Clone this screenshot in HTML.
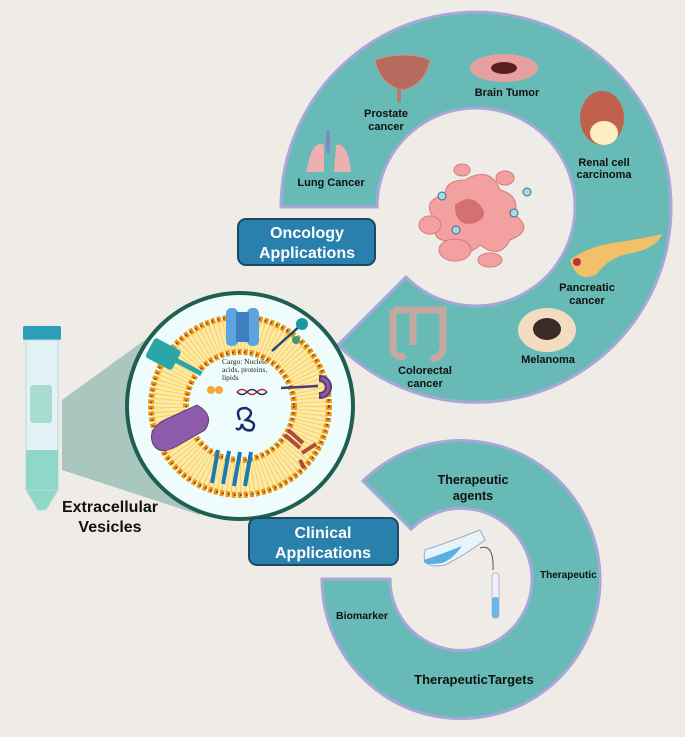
<!DOCTYPE html>
<html><head><meta charset="utf-8"><style>
body{margin:0;background:#efebe6;}
svg{display:block;font-family:"Liberation Sans",sans-serif;}
.lb{font-weight:bold;font-size:11px;fill:#111;text-anchor:middle}
</style></head><body>
<svg width="685" height="737" viewBox="0 0 685 737">
<rect width="685" height="737" fill="#efebe6"/>
<!-- shadow wedge -->
<polygon points="62,400 175,318 200,515 62,470" fill="#a9c7bf"/>
<!-- top ring: center 476,207 R195 r99; from 180deg clockwise to 225deg (lower-left) -->
<path d="M281,207 A195,195 0 1 1 338,345 L406,277 A99,99 0 1 0 377,207 Z" fill="#67bab6" stroke="#a5a8d8" stroke-width="3"/>
<!-- bottom ring: center 461,579 R139 r71 -->
<path d="M322,579 A139,139 0 1 0 363,481 L411,529 A71,71 0 1 1 390,579 Z" fill="#67bab6" stroke="#a5a8d8" stroke-width="3"/>
<!-- vesicle -->
<circle cx="240" cy="406" r="113" fill="#effcfc" stroke="#1f5f50" stroke-width="4"/>
<circle cx="240" cy="406" r="72" fill="none" stroke="#fde9a8" stroke-width="34"/>
<circle cx="240" cy="406" r="72" fill="none" stroke="#f4c542" stroke-width="30" stroke-dasharray="1 3" opacity=".7"/>
<circle cx="240" cy="406" r="89" fill="none" stroke="#e89a12" stroke-width="6" stroke-dasharray="4 2"/>
<circle cx="240" cy="406" r="54" fill="none" stroke="#e89a12" stroke-width="6" stroke-dasharray="4 2"/>
<circle cx="240" cy="406" r="89" fill="none" stroke="#a3421a" stroke-width="2" stroke-dasharray="2 4"/>
<circle cx="240" cy="406" r="54" fill="none" stroke="#a3421a" stroke-width="2" stroke-dasharray="2 4"/>
<!-- proteins -->
<rect x="226" y="308" width="12" height="38" rx="5" fill="#5ba4e0"/><rect x="247" y="308" width="12" height="38" rx="5" fill="#5ba4e0"/><rect x="236" y="312" width="13" height="30" fill="#3d7fbf"/>
<g transform="rotate(28 165 355)"><rect x="148" y="344" width="30" height="22" rx="3" fill="#2aa6a8"/><rect x="176" y="352" width="30" height="5" fill="#2aa6a8"/></g>
<path d="M171,417 q-25,10 -18,27 q6,12 24,2 l28,-16 q10,-15 -8,-25 z" fill="#8e5aab" stroke="#5e3b78"/>
<line x1="272" y1="351" x2="302" y2="324" stroke="#1c4c6e" stroke-width="2.5"/><circle cx="302" cy="324" r="6" fill="#1a9a9a"/><circle cx="296" cy="340" r="4" fill="#3a9a80"/>
<line x1="281" y1="388" x2="318" y2="386" stroke="#4a3a78" stroke-width="2.5"/>
<path d="M320,376 a11,11 0 0 1 0,22 l0,-5 a6,6 0 0 0 0,-12 z" fill="#8e5aab" stroke="#5e3b78" stroke-width="2"/>
<g stroke="#b04a3a" stroke-width="4"><line x1="285" y1="435" x2="300" y2="448"/><line x1="288" y1="430" x2="303" y2="443"/><line x1="302" y1="453" x2="316" y2="444"/><line x1="300" y1="460" x2="304" y2="468"/></g>
<g stroke="#1a7ab8" stroke-width="4"><line x1="212" y1="483" x2="218" y2="450"/><line x1="223" y1="484" x2="229" y2="451"/><line x1="234" y1="486" x2="240" y2="452"/><line x1="245" y1="486" x2="251" y2="452"/></g>
<text x="222" y="364" font-family="Liberation Serif,serif" font-size="7.5" fill="#222">Cargo: Nucleic</text>
<text x="222" y="372" font-family="Liberation Serif,serif" font-size="7.5" fill="#222">acids, proteins,</text>
<text x="222" y="380" font-family="Liberation Serif,serif" font-size="7.5" fill="#222">lipids</text>
<circle cx="211" cy="390" r="4" fill="#f3a838"/><circle cx="219" cy="390" r="4" fill="#f3a838"/>
<path d="M237,392 q5,-5 10,0 t10,0 t10,0" stroke="#c23" fill="none" stroke-width="1.5"/><path d="M237,392 q5,5 10,0 t10,0 t10,0" stroke="#236" fill="none" stroke-width="1.5"/>
<path d="M240,420 q-6,-12 6,-12 q10,4 0,12 q12,2 6,10 q-8,2 -10,-6 q-2,8 -6,4" stroke="#13306a" fill="none" stroke-width="2.5"/>
<!-- tube -->
<rect x="23" y="326" width="38" height="14" rx="2" fill="#2b9fb8"/>
<rect x="26" y="340" width="32" height="150" fill="#e3f3f5" stroke="#b8d8dc"/>
<rect x="26" y="450" width="32" height="40" fill="#8fd8c8"/>
<polygon points="26,490 58,490 46,510 38,510" fill="#8fd8c8" stroke="#b8d8dc"/>
<rect x="30" y="385" width="22" height="38" rx="3" fill="#a8dccf"/>
<text x="110" y="512" font-size="16" font-weight="bold" fill="#111" text-anchor="middle">Extracellular</text>
<text x="110" y="532" font-size="16" font-weight="bold" fill="#111" text-anchor="middle">Vesicles</text>
<!-- boxes -->
<rect x="238" y="219" width="137" height="46" rx="8" fill="#2a80ad" stroke="#1c4a63" stroke-width="2"/>
<text x="307" y="238" font-size="16" font-weight="bold" fill="#fff" text-anchor="middle">Oncology</text>
<text x="307" y="258" font-size="16" font-weight="bold" fill="#fff" text-anchor="middle">Applications</text>
<rect x="249" y="518" width="149" height="47" rx="8" fill="#2a80ad" stroke="#1c4a63" stroke-width="2"/>
<text x="323" y="538" font-size="16" font-weight="bold" fill="#fff" text-anchor="middle">Clinical</text>
<text x="323" y="558" font-size="16" font-weight="bold" fill="#fff" text-anchor="middle">Applications</text>
<!-- tumor center -->
<g fill="#f2a0a0" stroke="#d77a7a">
<path d="M465,180 q25,-15 35,10 q20,5 15,25 q20,15 -5,25 q-10,20 -30,5 q-15,15 -25,-5 q-25,5 -20,-20 q-15,-20 10,-25 q0,-15 20,-15z"/>
<ellipse cx="455" cy="250" rx="16" ry="11"/><ellipse cx="490" cy="260" rx="12" ry="7"/><ellipse cx="430" cy="225" rx="11" ry="9"/><ellipse cx="505" cy="178" rx="9" ry="7"/><ellipse cx="462" cy="170" rx="8" ry="6"/>
</g>
<path d="M455,205 q15,-12 25,0 q10,12 -5,18 q-20,5 -20,-18z" fill="#d57070"/>
<g fill="#a6d8e8" stroke="#3a6a8a"><circle cx="442" cy="196" r="4"/><circle cx="527" cy="192" r="4"/><circle cx="514" cy="213" r="4"/><circle cx="456" cy="230" r="4"/></g>
<!-- organ icons -->
<path d="M375,60 q30,-10 55,0 q-5,25 -27,30 q-23,-5 -28,-30z" fill="#b76a5e" stroke="#d09080"/><rect x="397" y="88" width="4" height="14" fill="#c07a6a"/>
<ellipse cx="504" cy="68" rx="34" ry="14" fill="#e6a0a0"/><ellipse cx="504" cy="68" rx="13" ry="6" fill="#5a2020"/>
<g fill="#edb0b0"><path d="M309,160 q5,-20 15,-15 v27 h-18z"/><path d="M336,145 q12,-3 15,27 h-17z"/></g><rect x="326" y="131" width="4" height="22" fill="#8088c8"/>
<ellipse cx="602" cy="118" rx="22" ry="27" fill="#c2604e"/><ellipse cx="604" cy="133" rx="14" ry="12" fill="#fbeec0"/>
<path d="M570,260 q20,-15 50,-18 q30,-5 42,-8 q-5,15 -35,20 q-20,5 -30,20 q-20,10 -27,-14z" fill="#f1c068"/><circle cx="577" cy="262" r="4" fill="#b33"/>
<ellipse cx="547" cy="330" rx="29" ry="22" fill="#f3dcc0"/><ellipse cx="547" cy="329" rx="14" ry="11" fill="#3a2a28"/>
<path d="M393,310 h20 v35 M393,310 v40 q5,10 12,5" stroke="#c7a8a0" stroke-width="7" fill="none"/><path d="M413,310 h30 v40 q-5,10 -12,8" stroke="#c7a8a0" stroke-width="7" fill="none"/>
<!-- labels -->
<text class="lb" x="386" y="117">Prostate</text><text class="lb" x="386" y="130">cancer</text>
<text class="lb" x="507" y="96">Brain Tumor</text>
<text class="lb" x="331" y="186">Lung Cancer</text>
<text class="lb" x="604" y="166">Renal cell</text><text class="lb" x="604" y="178">carcinoma</text>
<text class="lb" x="587" y="291">Pancreatic</text><text class="lb" x="587" y="304">cancer</text>
<text class="lb" x="548" y="363">Melanoma</text>
<text class="lb" x="425" y="374">Colorectal</text><text class="lb" x="425" y="387">cancer</text>
<!-- clinical ring content -->
<path d="M425,550 q30,-10 55,-20 l5,10 q-20,15 -40,25 q-25,5 -20,-15z" fill="#e8f4fa" stroke="#9ac"/><path d="M424,560 q15,-5 38,-14 q-10,14 -20,17 q-20,3 -18,-3z" fill="#5aaee0"/>
<path d="M480,548 q14,-5 13,22" stroke="#555" fill="none"/>
<rect x="492" y="573" width="7" height="45" rx="3" fill="#eef" stroke="#bbc"/><rect x="492" y="597" width="7" height="21" rx="3" fill="#6ab8e8"/>
<text x="473" y="484" font-size="12.5" font-weight="bold" fill="#111" text-anchor="middle">Therapeutic</text>
<text x="473" y="500" font-size="12.5" font-weight="bold" fill="#111" text-anchor="middle">agents</text>
<text x="540" y="578" font-size="10" font-weight="bold" fill="#111">Therapeutic</text>
<text x="362" y="619" font-size="10.5" font-weight="bold" fill="#111" text-anchor="middle">Biomarker</text>
<text x="474" y="684" font-size="13" font-weight="bold" fill="#111" text-anchor="middle">TherapeuticTargets</text>
</svg>
</body></html>
